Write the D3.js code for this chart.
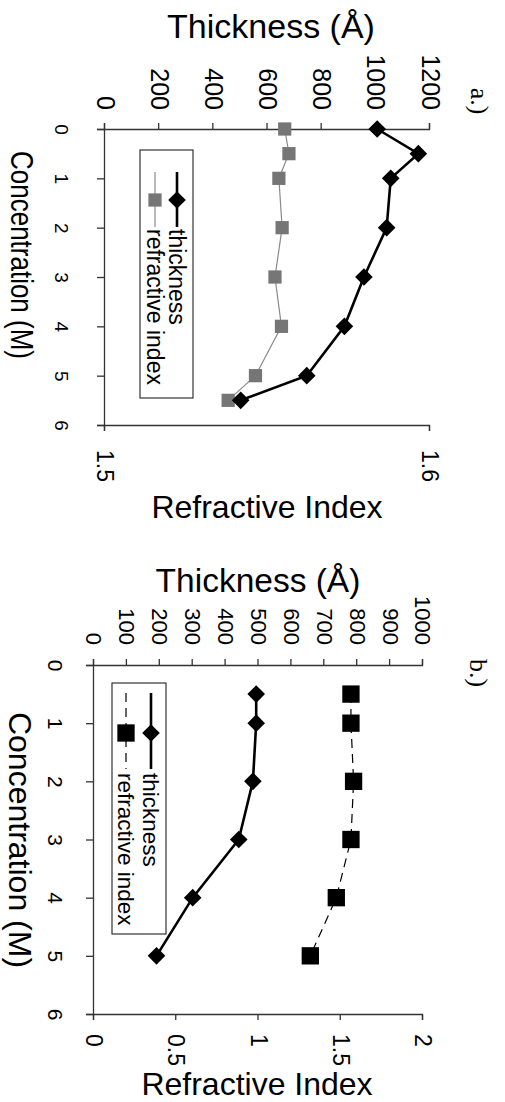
<!DOCTYPE html>
<html>
<head>
<meta charset="utf-8">
<script src="https://cdn.jsdelivr.net/npm/d3@7"></script>
<style>
body { margin: 0; background: #fff; }
svg { display: block; font-family: "Liberation Sans", Arial, sans-serif; }
.axis .domain, .axis line { stroke: #333; stroke-width: 1.3; }
.axis text { fill: #000; font-family: "Liberation Sans", Arial, sans-serif; }
</style>
</head>
<body>
<svg id="chart" width="505" height="1102"></svg>
<script>
// panel a.)
var concA = [0, 0.5, 1, 2, 3, 4, 5, 5.5];
var thickA = [1005, 1157, 1055, 1040, 956, 884, 745, 501];
var riA = [1.5553, 1.5566, 1.5535, 1.5545, 1.5523, 1.5543, 1.5463, 1.5379];

// panel b.)
var concB = [0.5, 1, 2, 3, 4, 5];
var thickB = [493, 493, 483, 440, 300, 190];
var riB = [1.562, 1.562, 1.578, 1.562, 1.473, 1.315];

var concTicks = [0, 1, 2, 3, 4, 5, 6];
var thickTicksA = [0, 200, 400, 600, 800, 1000, 1200];
var riTicksA = [1.5, 1.6];
var thickTicksB = [0, 100, 200, 300, 400, 500, 600, 700, 800, 900, 1000];
var riTicksB = [0, 0.5, 1, 1.5, 2];
var legendLabels = ["thickness", "refractive index"];

var svg = d3.select("#chart");

// the chart was printed turned a quarter turn clockwise, so each panel is
// drawn upright in its own frame and then rotated into place
function panel(o) {
  var g = svg.append("g")
    .attr("transform", "translate(" + o.ox + "," + o.oy + ") rotate(90)");

  var x = d3.scaleLinear().domain([0, 6]).range([0, o.w]);
  var yT = d3.scaleLinear().domain([0, d3.max(o.thickTicks)]).range([o.h, 0]);
  var yR = d3.scaleLinear().domain(d3.extent(o.riTicks)).range([o.h, 0]);

  g.append("g").attr("class", "axis")
    .attr("transform", "translate(0," + o.h + ")")
    .call(d3.axisBottom(x).tickValues(concTicks).tickSize(8).tickPadding(o.concPad)
      .tickFormat(function(d) { return d; }))
    .selectAll("text").style("font-size", o.concFont + "px");

  g.append("g").attr("class", "axis")
    .call(d3.axisLeft(yT).tickValues(o.thickTicks).tickSize(6).tickPadding(o.thickPad)
      .tickFormat(function(d) { return d; }))
    .selectAll("text").style("font-size", o.thickFont + "px");

  g.append("g").attr("class", "axis")
    .attr("transform", "translate(" + o.w + ",0)")
    .call(d3.axisRight(yR).tickValues(o.riTicks).tickSize(6).tickPadding(o.riPad)
      .tickFormat(function(d) { return d; }))
    .selectAll("text").style("font-size", o.riFont + "px");

  var thickPts = o.conc.map(function(c, i) { return [x(c), yT(o.thick[i])]; });
  var riPts = o.conc.map(function(c, i) { return [x(c), yR(o.ri[i])]; });
  var line = d3.line();

  g.append("path").attr("d", line(riPts))
    .attr("fill", "none").attr("stroke", o.riLine).attr("stroke-width", 1.2)
    .attr("stroke-dasharray", o.riDash);
  g.append("path").attr("d", line(thickPts))
    .attr("fill", "none").attr("stroke", "#000").attr("stroke-width", 2.6);

  var diamond = d3.symbol().type(d3.symbolSquare).size(155);
  var square = d3.symbol().type(d3.symbolSquare).size(o.sqSize);

  g.selectAll(".ri").data(riPts).join("path").attr("class", "ri")
    .attr("d", square).attr("fill", o.sqFill)
    .attr("transform", function(p) { return "translate(" + p[0] + "," + p[1] + ")"; });
  g.selectAll(".th").data(thickPts).join("path").attr("class", "th")
    .attr("d", diamond).attr("fill", "#000")
    .attr("transform", function(p) { return "translate(" + p[0] + "," + p[1] + ") rotate(45)"; });

  // legend
  var L = o.legend;
  g.append("rect").attr("x", L.x0).attr("y", L.y0)
    .attr("width", L.x1 - L.x0).attr("height", L.y1 - L.y0)
    .attr("fill", "#fff").attr("stroke", "#222").attr("stroke-width", 1.1);
  legendLabels.forEach(function(lab, i) {
    var yy = L.rows[i];
    g.append("line").attr("x1", L.lx0).attr("x2", L.lx1).attr("y1", yy).attr("y2", yy)
      .attr("stroke", i ? o.riLine : "#000").attr("stroke-width", i ? 1.2 : 2.6)
      .attr("stroke-dasharray", i ? o.riDash : null);
    g.append("path").attr("d", i ? square : diamond).attr("fill", i ? o.sqFill : "#000")
      .attr("transform", "translate(" + L.mx + "," + yy + ")" + (i ? "" : " rotate(45)"));
    g.append("text").attr("x", L.tx).attr("y", yy).attr("dy", "0.36em")
      .style("font-size", L.font + "px").text(lab);
  });

  // titles, in page coordinates
  svg.append("text").attr("x", o.thickTitle[0]).attr("y", o.thickTitle[1])
    .attr("text-anchor", "middle").style("font-size", o.thickTitle[2] + "px").text("Thickness (Å)");
  svg.append("text").attr("x", o.riTitle[0]).attr("y", o.riTitle[1])
    .attr("text-anchor", "middle").style("font-size", o.riTitle[2] + "px").text("Refractive Index");
  svg.append("text").attr("text-anchor", "middle")
    .attr("transform", "translate(" + o.concTitle[0] + "," + o.concTitle[1] + ") rotate(90) scale(1," + o.concTitle[3] + ")")
    .style("font-size", o.concTitle[2] + "px").text("Concentration (M)");
  svg.append("text").attr("text-anchor", "middle").attr("dy", "0.35em")
    .attr("transform", "translate(" + o.tag[0] + "," + o.tag[1] + ") rotate(90)")
    .style("font-family", "'Liberation Serif', 'Times New Roman', serif")
    .style("font-size", "26px").text(o.tag[2]);
}

panel({
  ox: 430, oy: 129, w: 296, h: 325,
  conc: concA, thick: thickA, ri: riA,
  thickTicks: thickTicksA, riTicks: riTicksA,
  concPad: 29, concFont: 19, thickPad: 13, thickFont: 25, riPad: 19, riFont: 23,
  riLine: "#8a8a8a", riDash: null, sqFill: "#767676", sqSize: 175,
  legend: { x0: 21, x1: 269, y0: 237, y1: 290, rows: [253, 275], lx0: 43, lx1: 98, mx: 71, tx: 100, font: 23 },
  thickTitle: [271, 38, 34], riTitle: [267, 518, 32], concTitle: [11, 255, 26, 1.2],
  tag: [480, 101, "a.)"]
});

panel({
  ox: 423, oy: 665, w: 349, h: 329,
  conc: concB, thick: thickB, ri: riB,
  thickTicks: thickTicksB, riTicks: riTicksB,
  concPad: 23, concFont: 21, thickPad: 14, thickFont: 22, riPad: 14, riFont: 23,
  riLine: "#000", riDash: "9,6", sqFill: "#000", sqSize: 300,
  legend: { x0: 18, x1: 269, y0: 257, y1: 311, rows: [272, 297], lx0: 28, lx1: 104, mx: 68, tx: 108, font: 22.5 },
  thickTitle: [258, 592, 33.5], riTitle: [257, 1095, 32], concTitle: [9, 840, 32, 1],
  tag: [479, 673, "b.)"]
});
</script>
</body>
</html>
